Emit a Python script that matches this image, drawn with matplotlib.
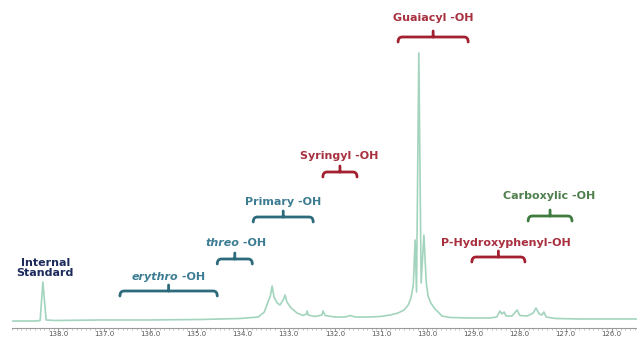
import numpy as np
import matplotlib
matplotlib.use('Agg')
import matplotlib.pyplot as plt
from matplotlib.path import Path
from matplotlib.patches import PathPatch

# traced 31P spectrum (chemical shift in ppm, intensity in arbitrary units)
shift_ppm = [139.00, 138.50, 138.39, 138.33, 138.26, 138.07, 137.09, 136.01, 134.92, 134.06,
             133.66, 133.53, 133.45, 133.40, 133.36, 133.32, 133.25, 133.19, 133.12, 133.08,
             133.04, 132.95, 132.82, 132.69, 132.62, 132.60, 132.58, 132.43, 132.28, 132.26,
             132.21, 132.00, 131.78, 131.67, 131.56, 131.24, 131.02, 130.80, 130.63, 130.50,
             130.41, 130.35, 130.30, 130.26, 130.23, 130.18, 130.13, 130.07, 130.02, 129.98,
             129.92, 129.83, 129.76, 129.68, 129.50, 129.07, 128.64, 128.49, 128.42, 128.38,
             128.33, 128.29, 128.16, 128.05, 127.99, 127.83, 127.70, 127.64, 127.57, 127.51,
             127.47, 127.42, 127.22, 126.68, 126.03, 125.45]
intensity = [1.0, 1.0, 1.5, 40.0, 2.0, 1.5, 2.0, 2.0, 2.5, 3.5,
             5.0, 10.0, 20.0, 26.0, 36.0, 25.0, 19.0, 17.0, 22.0, 27.0,
             20.0, 14.0, 9.0, 6.5, 8.0, 11.0, 7.0, 5.5, 7.0, 11.0,
             6.5, 5.0, 5.0, 6.5, 5.0, 5.0, 5.5, 7.0, 9.0, 12.0,
             17.0, 24.0, 37.0, 82.0, 30.0, 269.0, 39.0, 87.0, 40.0, 26.0,
             19.0, 13.0, 10.0, 6.0, 4.5, 4.0, 4.0, 5.0, 11.0, 8.0,
             10.0, 6.0, 6.0, 12.0, 6.5, 6.0, 9.0, 14.0, 8.0, 7.0,
             10.0, 5.0, 3.5, 3.0, 3.0, 3.0]

# integration regions (start ppm, end ppm)
region_names = ['erythro', 'threo', 'Primary', 'Syringyl', 'Guaiacyl', 'P-Hydroxyphenyl', 'Carboxylic']
region_start = [136.66, 134.55, 133.77, 132.26, 130.63, 129.03, 127.81]
region_end = [134.55, 133.79, 132.47, 131.52, 129.11, 127.88, 126.86]

tick_ppm = [138.0, 137.0, 136.0, 135.0, 134.0, 133.0, 132.0, 131.0, 130.0, 129.0, 128.0, 127.0, 126.0]

BLUE = '#3d7d93'
BLUE_BR = '#2c6a7c'
RED = '#a8303f'
RED_BR = '#a2202f'
GREEN = '#4f7f4c'
GREEN_BR = '#3f7a3e'
NAVY = '#1c2b5c'

fig = plt.figure(figsize=(6.37, 3.40), dpi=100)
ax = fig.add_axes([12 / 637, 12 / 340, 625 / 637, 328 / 340])
ax.plot(shift_ppm, intensity, color='#a3d4bd', lw=1.2)
ax.set_xlim(139.0, 125.45)
ax.set_ylim(-6, 322)

for s in ['top', 'right', 'left']:
    ax.spines[s].set_visible(False)
ax.spines['bottom'].set_color('#9a9a9a')
ax.spines['bottom'].set_linestyle((0, (1, 1)))
ax.set_yticks([])
ax.set_xticks(tick_ppm)
ax.set_xticklabels([f'{t:.1f}' for t in tick_ppm])
ax.set_xticks(np.arange(125.5, 139.01, 0.1), minor=True)
ax.tick_params(axis='x', which='major', length=2, width=0.6, color='#888888',
               labelsize=5, labelcolor='#555555', pad=0.5)
ax.tick_params(axis='x', which='minor', length=1.5, width=0.5, color='#aaaaaa')


def bracket(x0, x1, y0, color):
    dx = 0.09
    drop = 5
    xm = (x0 + x1) / 2
    verts = [(x0, y0 - drop), (x0, y0), (x0 - dx, y0),
             (x1 + dx, y0), (x1, y0), (x1, y0 - drop),
             (xm, y0), (xm, y0 + 6)]
    codes = [Path.MOVETO, Path.CURVE3, Path.CURVE3,
             Path.LINETO, Path.CURVE3, Path.CURVE3,
             Path.MOVETO, Path.LINETO]
    ax.add_patch(PathPatch(Path(verts, codes), fill=False, edgecolor=color,
                           lw=2.0, capstyle='round', joinstyle='round'))


bracket_y = [31, 63, 105, 150, 285, 65, 106]
bracket_col = [BLUE_BR, BLUE_BR, BLUE_BR, RED_BR, RED_BR, RED_BR, GREEN_BR]
for i in range(len(region_names)):
    bracket(region_start[i], region_end[i], bracket_y[i], bracket_col[i])

tkw = dict(fontsize=8, fontweight='bold', va='center')
ax.text(138.28, 54.5, 'Internal\nStandard', color=NAVY, ha='center', linespacing=1.0, **tkw)
ax.text(135.40, 45, 'erythro', color=BLUE, ha='right', style='italic', **tkw)
ax.text(135.40, 45, ' -OH', color=BLUE, ha='left', **tkw)
ax.text(134.08, 79, 'threo', color=BLUE, ha='right', style='italic', **tkw)
ax.text(134.08, 79, ' -OH', color=BLUE, ha='left', **tkw)
ax.text(133.12, 120, 'Primary -OH', color=BLUE, ha='center', **tkw)
ax.text(131.91, 166, 'Syringyl -OH', color=RED, ha='center', **tkw)
ax.text(129.87, 304, 'Guaiacyl -OH', color=RED, ha='center', **tkw)
ax.text(128.29, 79, 'P-Hydroxyphenyl-OH', color=RED, ha='center', **tkw)
ax.text(127.35, 126, 'Carboxylic -OH', color=GREEN, ha='center', **tkw)

fig.savefig('out.png', dpi=100)
